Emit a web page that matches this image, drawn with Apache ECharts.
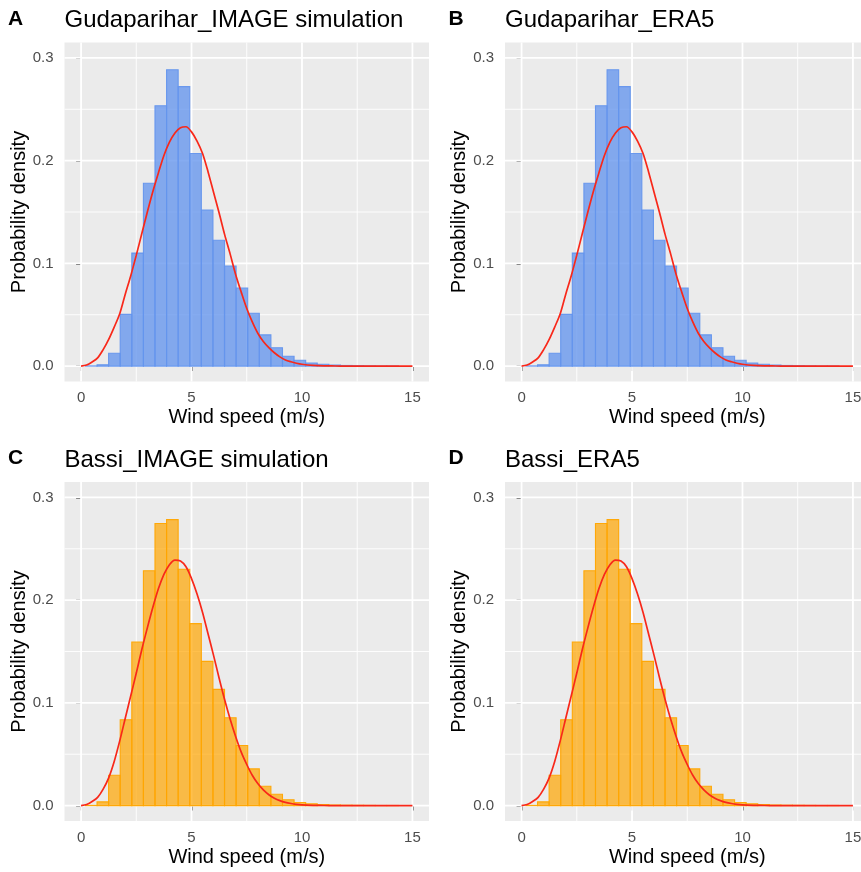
<!DOCTYPE html>
<html>
<head>
<meta charset="utf-8">
<script src="https://cdn.jsdelivr.net/npm/echarts@6/dist/echarts.min.js"></script>
<style>
  html, body { margin: 0; padding: 0; background: #ffffff; }
  #chart { width: 861px; height: 872px; }
</style>
</head>
<body>
<div id="chart"></div>
<script>
// ---- data -------------------------------------------------------------
// Histogram bin midpoints (m/s); every panel uses the same 0.5247 m/s bins
const binMids = [0.460, 0.985, 1.509, 2.034, 2.559, 3.084, 3.608, 4.133, 4.658, 5.182,
                 5.707, 6.232, 6.756, 7.281, 7.806, 8.331, 8.855, 9.380, 9.905, 10.429,
                 10.954, 11.479, 12.003, 12.528, 13.053, 13.577, 14.102, 14.627, 15.151];
const binWidth = 0.5247;

// Probability density of each bin
const gudaImageDensity = [0.0002, 0.0013, 0.0125, 0.0503, 0.1100, 0.1780, 0.2535, 0.2885, 0.2720, 0.2070,
                          0.1520, 0.1225, 0.0973, 0.0760, 0.0515, 0.0304, 0.0179, 0.0096, 0.0057, 0.0030,
                          0.0018, 0.0010, 0.0006, 0.0004, 0.0002, 0.0001, 0.0001, 0, 0];
const gudaEra5Density  = [0.0002, 0.0013, 0.0125, 0.0503, 0.1100, 0.1780, 0.2535, 0.2885, 0.2720, 0.2070,
                          0.1520, 0.1225, 0.0973, 0.0760, 0.0515, 0.0304, 0.0179, 0.0096, 0.0057, 0.0030,
                          0.0018, 0.0010, 0.0006, 0.0004, 0.0002, 0.0001, 0.0001, 0, 0];
const bassiImageDensity = [0.0002, 0.0036, 0.0295, 0.0835, 0.1592, 0.2286, 0.2746, 0.2784, 0.2300, 0.1771,
                           0.1404, 0.1131, 0.0855, 0.0585, 0.0357, 0.0188, 0.0110, 0.0057, 0.0030, 0.0017,
                           0.0010, 0.0006, 0.0004, 0.0003, 0.0002, 0.0001, 0.0001, 0, 0];
const bassiEra5Density  = [0.0002, 0.0036, 0.0295, 0.0835, 0.1592, 0.2286, 0.2746, 0.2784, 0.2300, 0.1771,
                           0.1404, 0.1131, 0.0855, 0.0585, 0.0357, 0.0188, 0.0110, 0.0057, 0.0030, 0.0017,
                           0.0010, 0.0006, 0.0004, 0.0003, 0.0002, 0.0001, 0.0001, 0, 0];

// Fitted density curves, sampled along wind speed
const fitX = [0, 0.25, 0.5, 0.75, 1, 1.25, 1.5, 1.75, 2, 2.25, 2.5, 2.75, 3, 3.25, 3.5, 3.75,
              4, 4.25, 4.5, 4.75, 5, 5.25, 5.5, 5.75, 6, 6.25, 6.5, 6.75, 7, 7.25, 7.5, 7.75,
              8, 8.25, 8.5, 8.75, 9, 9.25, 9.5, 9.75, 10, 10.5, 11, 11.5, 12, 13, 14, 15];
const gudaImageFit = [0, 0.001, 0.004, 0.008, 0.016, 0.026, 0.038, 0.051, 0.070, 0.088, 0.108, 0.129,
                      0.150, 0.170, 0.188, 0.205, 0.218, 0.227, 0.232, 0.233, 0.228, 0.219, 0.207, 0.189,
                      0.169, 0.149, 0.128, 0.109, 0.089, 0.072, 0.056, 0.043, 0.032, 0.024, 0.018, 0.013,
                      0.009, 0.006, 0.0042, 0.0028, 0.0018, 0.0007, 0.0002, 0.0001, 0, 0, 0, 0];
const gudaEra5Fit  = [0, 0.001, 0.004, 0.008, 0.016, 0.026, 0.038, 0.051, 0.070, 0.088, 0.108, 0.129,
                      0.150, 0.170, 0.188, 0.205, 0.218, 0.227, 0.232, 0.233, 0.228, 0.219, 0.207, 0.189,
                      0.169, 0.149, 0.128, 0.109, 0.089, 0.072, 0.056, 0.043, 0.032, 0.024, 0.018, 0.013,
                      0.009, 0.006, 0.0042, 0.0028, 0.0018, 0.0007, 0.0002, 0.0001, 0, 0, 0, 0];
const bassiImageFit = [0, 0.001, 0.004, 0.008, 0.016, 0.027, 0.043, 0.063, 0.085, 0.107, 0.129, 0.152,
                       0.173, 0.193, 0.211, 0.225, 0.2345, 0.239, 0.238, 0.2325, 0.221, 0.206, 0.188, 0.167,
                       0.146, 0.124, 0.103, 0.084, 0.067, 0.052, 0.040, 0.0295, 0.0214, 0.0153, 0.0106, 0.0072,
                       0.0048, 0.0031, 0.0020, 0.0012, 0.0007, 0.0003, 0.0001, 0, 0, 0, 0, 0];
const bassiEra5Fit  = [0, 0.001, 0.004, 0.008, 0.016, 0.027, 0.043, 0.063, 0.085, 0.107, 0.129, 0.152,
                       0.173, 0.193, 0.211, 0.225, 0.2345, 0.239, 0.238, 0.2325, 0.221, 0.206, 0.188, 0.167,
                       0.146, 0.124, 0.103, 0.084, 0.067, 0.052, 0.040, 0.0295, 0.0214, 0.0153, 0.0106, 0.0072,
                       0.0048, 0.0031, 0.0020, 0.0012, 0.0007, 0.0003, 0.0001, 0, 0, 0, 0, 0];

// Axis ticks and gridlines
const xTicks = [0, 5, 10, 15];
const yTicks = [0, 0.1, 0.2, 0.3];
const xMinorTicks = [2.5, 7.5, 12.5];
const yMinorTicks = [0.05, 0.15, 0.25];

const panelTags = ['A', 'B', 'C', 'D'];
const panelTitles = ['Gudaparihar_IMAGE simulation', 'Gudaparihar_ERA5',
                     'Bassi_IMAGE simulation', 'Bassi_ERA5'];
const xTitle = 'Wind speed (m/s)';
const yTitle = 'Probability density';

// ---- layout & style ---------------------------------------------------
const FONT = '"Liberation Sans", Arial, Helvetica, sans-serif';
const BLUE_FILL = 'rgba(100,149,237,0.78)', BLUE_LINE = 'rgba(100,149,237,0.95)';
const ORANGE_FILL = 'rgba(255,165,0,0.7)', ORANGE_LINE = 'rgba(255,165,0,0.95)';
const panels = [
  { left: 64.5, top: 42.5, density: gudaImageDensity,  fit: gudaImageFit,  fill: BLUE_FILL,   stroke: BLUE_LINE },
  { left: 505,  top: 42.5, density: gudaEra5Density,   fit: gudaEra5Fit,   fill: BLUE_FILL,   stroke: BLUE_LINE },
  { left: 64.5, top: 482,  density: bassiImageDensity, fit: bassiImageFit, fill: ORANGE_FILL, stroke: ORANGE_LINE },
  { left: 505,  top: 482,  density: bassiEra5Density,  fit: bassiEra5Fit,  fill: ORANGE_FILL, stroke: ORANGE_LINE }
];
const PW = 364.5, PH = 339;

const chart = echarts.init(document.getElementById('chart'), null, { renderer: 'canvas' });

const grids = [], xAxes = [], yAxes = [], series = [], graphics = [];

// gridline items: [value, orientation (0 = horizontal, 1 = vertical), major flag]
const gridItems = [];
yTicks.forEach(v => gridItems.push([v, 0, 1]));
yMinorTicks.forEach(v => gridItems.push([v, 0, 0]));
xTicks.forEach(v => gridItems.push([v, 1, 1]));
xMinorTicks.forEach(v => gridItems.push([v, 1, 0]));

panels.forEach((p, i) => {
  grids.push({
    left: p.left, top: p.top, width: PW, height: PH,
    show: true, backgroundColor: '#EBEBEB', borderWidth: 0,
    containLabel: false, outerBoundsMode: 'none'
  });
  xAxes.push({
    type: 'value', gridIndex: i, min: -0.75, max: 15.75,
    axisLine: { show: false },
    axisTick: { show: true, customValues: xTicks, length: 5, lineStyle: { color: '#333333', width: 1.5 } },
    axisLabel: { customValues: xTicks, color: '#4D4D4D', fontSize: 15, fontFamily: FONT, margin: 9 },
    splitLine: { show: false }, minorSplitLine: { show: false }
  });
  yAxes.push({
    type: 'value', gridIndex: i, min: -0.015, max: 0.315,
    axisLine: { show: false },
    axisTick: { show: true, customValues: yTicks, length: 5, lineStyle: { color: '#333333', width: 1.5 } },
    axisLabel: { customValues: yTicks, color: '#4D4D4D', fontSize: 15, fontFamily: FONT, margin: 11,
                 formatter: v => v.toFixed(1) },
    splitLine: { show: false }, minorSplitLine: { show: false }
  });

  // panel gridlines (white, major thicker than minor)
  series.push({
    type: 'custom', xAxisIndex: i, yAxisIndex: i, z: 1, silent: true,
    data: gridItems,
    renderItem: (params, api) => {
      const cs = params.coordSys;
      const v = api.value(0), vertical = api.value(1) === 1, major = api.value(2) === 1;
      let shape;
      if (vertical) {
        const x = api.coord([v, 0])[0];
        shape = { x1: x, y1: cs.y, x2: x, y2: cs.y + cs.height };
      } else {
        const y = api.coord([0, v])[1];
        shape = { x1: cs.x, y1: y, x2: cs.x + cs.width, y2: y };
      }
      return { type: 'line', shape, style: { stroke: '#FFFFFF', lineWidth: major ? 1.8 : 0.9 } };
    }
  });

  // histogram bars (empty bins are left out)
  series.push({
    type: 'custom', xAxisIndex: i, yAxisIndex: i, z: 2, silent: true,
    data: binMids.map((m, k) => [m, p.density[k]]),
    renderItem: (params, api) => {
      const mid = api.value(0), h = api.value(1);
      if (!(h > 0)) return null;
      const a = api.coord([mid - binWidth / 2, h]);
      const b = api.coord([mid + binWidth / 2, 0]);
      return {
        type: 'rect',
        shape: { x: a[0], y: a[1], width: b[0] - a[0], height: b[1] - a[1] },
        style: { fill: p.fill, stroke: p.stroke, lineWidth: 1.1 }
      };
    }
  });

  // fitted density curve
  series.push({
    type: 'line', xAxisIndex: i, yAxisIndex: i, z: 3, silent: true,
    data: fitX.map((x, k) => [x, p.fit[k]]),
    smooth: 0.3, showSymbol: false, symbol: 'none',
    lineStyle: { color: '#F8281A', width: 1.7 }
  });

  // tag, title, axis titles
  graphics.push({
    type: 'text', x: p.left - 56.5, y: p.top - 23.5,
    style: { text: panelTags[i], fontSize: 21, fontWeight: 'bold', fontFamily: FONT, fill: '#000000',
             textAlign: 'left', align: 'left', textVerticalAlign: 'middle', verticalAlign: 'middle' }
  });
  graphics.push({
    type: 'text', x: p.left, y: p.top - 22,
    style: { text: panelTitles[i], fontSize: 24, fontFamily: FONT, fill: '#000000',
             textAlign: 'left', align: 'left', textVerticalAlign: 'middle', verticalAlign: 'middle' }
  });
  graphics.push({
    type: 'text', x: p.left + PW / 2, y: p.top + PH + 36,
    style: { text: xTitle, fontSize: 20, fontFamily: FONT, fill: '#000000',
             textAlign: 'center', align: 'center', textVerticalAlign: 'middle', verticalAlign: 'middle' }
  });
  graphics.push({
    type: 'text', x: p.left - 45.5, y: p.top + PH / 2, rotation: Math.PI / 2,
    style: { text: yTitle, fontSize: 20, fontFamily: FONT, fill: '#000000',
             textAlign: 'center', align: 'center', textVerticalAlign: 'middle', verticalAlign: 'middle' }
  });
});

chart.setOption({
  animation: false,
  backgroundColor: '#FFFFFF',
  grid: grids,
  xAxis: xAxes,
  yAxis: yAxes,
  series: series,
  graphic: { elements: graphics }
});
</script>
</body>
</html>
